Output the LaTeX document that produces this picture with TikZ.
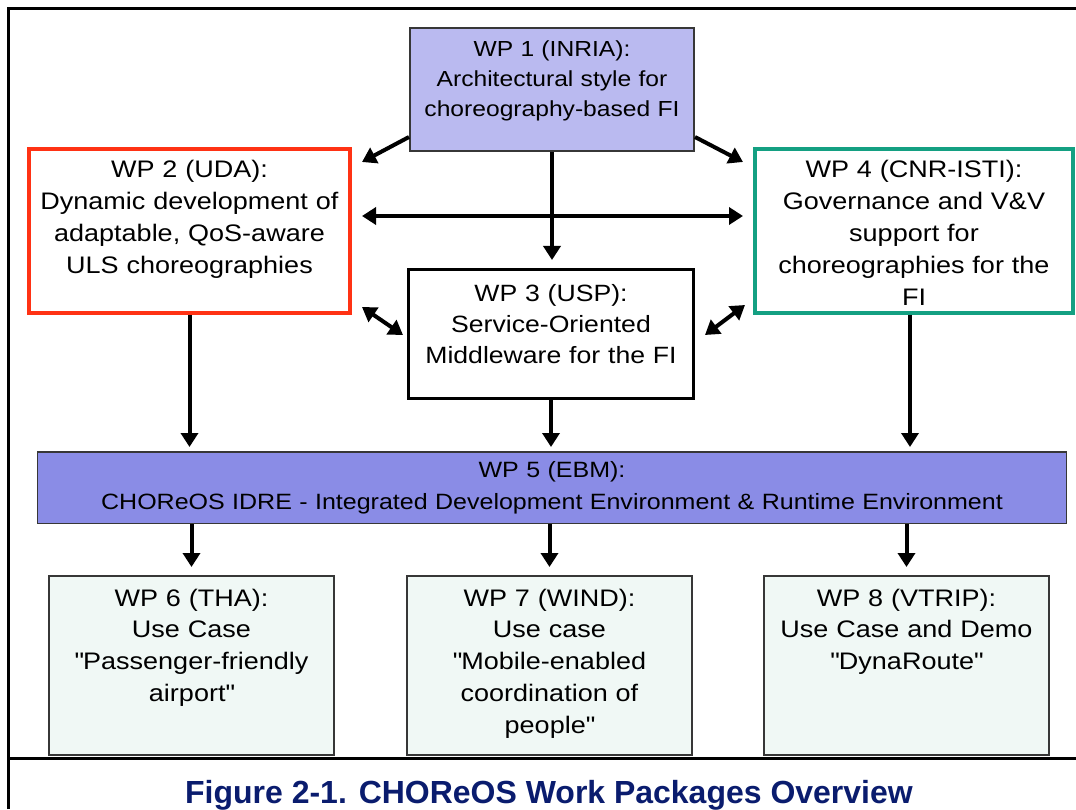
\documentclass[tikz,border=0pt]{standalone}
\usepackage{fontspec}
\setmainfont{Liberation Sans}[FakeStretch=1.13]
\newfontfamily\capfont{Liberation Sans}
\usetikzlibrary{arrows.meta}

\definecolor{wplilac}{RGB}{186,186,240}
\definecolor{wpviolet}{RGB}{138,140,230}
\definecolor{wpmint}{RGB}{240,248,245}
\definecolor{wpred}{RGB}{255,50,20}
\definecolor{wpteal}{RGB}{20,160,130}
\definecolor{wpgray}{RGB}{55,55,55}
\definecolor{capblue}{RGB}{10,28,110}

\newcommand{\qq}[1]{\textquotedbl{}#1\textquotedbl{}}

\tikzset{
	wpbox/.style={draw=wpgray, line width=0.04cm, inner sep=0pt},
	wptext/.style={anchor=base, inner sep=0pt, align=center, font=\fontsize{13.6}{18.2}\selectfont},
	wparrow/.style={line width=0.08cm, -{Triangle[length=0.28cm,width=0.34cm]}},
	wpboth/.style={line width=0.08cm, {Triangle[length=0.28cm,width=0.34cm]}-{Triangle[length=0.28cm,width=0.34cm]}},
	frameline/.style={line width=0.06cm}
}

\begin{document}
\begin{tikzpicture}
	\useasboundingbox (0,0) rectangle (21.52,16.18);
	%frame
		\draw[frameline] (0.18,0) -- (0.18,16.0) -- (21.52,16.0);
		\draw[frameline] (0.18,1.02) -- (21.52,1.02);
	%work packages
		\node[wpbox, fill=wplilac, minimum width=5.68cm, minimum height=2.46cm] (wp1) at (11.04,14.39) {};
		\node[wpbox, draw=wpred, line width=0.08cm, minimum width=6.42cm, minimum height=3.28cm] (wp2) at (3.79,11.56) {};
		\node[wpbox, draw=black, line width=0.06cm, minimum width=5.70cm, minimum height=2.58cm] (wp3) at (11.02,9.5) {};
		\node[wpbox, draw=wpteal, line width=0.08cm, minimum width=6.36cm, minimum height=3.28cm] (wp4) at (18.28,11.56) {};
		\node[wpbox, fill=wpviolet, line width=0.03cm, minimum width=20.57cm, minimum height=1.43cm] (wp5) at (11.04,6.43) {};
		\node[wpbox, fill=wpmint, minimum width=5.70cm, minimum height=3.58cm] (wp6) at (3.83,2.87) {};
		\node[wpbox, fill=wpmint, minimum width=5.70cm, minimum height=3.58cm] (wp7) at (10.99,2.87) {};
		\node[wpbox, fill=wpmint, minimum width=5.70cm, minimum height=3.58cm] (wp8) at (18.13,2.87) {};
	%labels
		\node[wptext, text width=5.6cm, font=\fontsize{12.4}{17.1}\selectfont] (wp1t) at (11.04,15.05) {WP 1 (INRIA):\\Architectural style for\\choreography-based FI};
		\node[wptext, text width=6.3cm] (wp2t) at (3.79,12.62) {WP 2 (UDA):\\Dynamic development of\\adaptable, QoS-aware\\ULS choreographies};
		\node[wptext, text width=5.6cm, font=\fontsize{13.4}{17.6}\selectfont] (wp3t) at (11.02,10.15) {WP 3 (USP):\\Service-Oriented\\Middleware for the FI};
		\node[wptext, text width=6.2cm] (wp4t) at (18.28,12.62) {WP 4 (CNR-ISTI):\\Governance and V\&V\\support for\\choreographies for the\\FI};
		\node[wptext, text width=20cm, font=\fontsize{12.6}{18.2}\selectfont] (wp5t) at (11.04,6.62) {WP 5 (EBM):\\CHOReOS IDRE - Integrated Development Environment \& Runtime Environment};
		\node[wptext, text width=5.6cm] (wp6t) at (3.83,4.06) {WP 6 (THA):\\Use Case\\\qq{Passenger-friendly\\airport}};
		\node[wptext, text width=5.6cm] (wp7t) at (10.99,4.06) {WP 7 (WIND):\\Use case\\\qq{Mobile-enabled\\coordination of\\people}};
		\node[wptext, text width=5.6cm] (wp8t) at (18.13,4.06) {WP 8 (VTRIP):\\Use Case and Demo\\\qq{DynaRoute}};
	%arrows from WP 1
		\draw[wparrow] ([yshift=0.3cm]wp1.south west) -- ([xshift=0.2cm,yshift=-0.3cm]wp2.north east);
		\draw[wparrow] ([yshift=0.3cm]wp1.south east) -- ([xshift=-0.2cm,yshift=-0.3cm]wp4.north west);
		\draw[wparrow, shorten >=0.16cm] (wp1.south) -- (wp1.south |- wp3.north);
	%links between WP 2, WP 3 and WP 4
		\draw[wpboth] ([xshift=0.2cm,yshift=0.3cm]wp2.east) -- ([xshift=-0.2cm,yshift=0.3cm]wp4.west);
		\draw[wpboth] ([xshift=0.2cm,yshift=0.16cm]wp2.south east) -- ([xshift=-0.08cm,yshift=-1.34cm]wp3.north west);
		\draw[wpboth] ([xshift=0.2cm,yshift=-1.34cm]wp3.north east) -- ([xshift=-0.16cm,yshift=0.2cm]wp4.south west);
	%into WP 5
		\draw[wparrow, shorten >=0.08cm] (wp2.south) -- (wp2.south |- wp5.north);
		\draw[wparrow, shorten >=0.08cm] (wp3.south) -- (wp3.south |- wp5.north);
		\draw[wparrow, shorten >=0.08cm] ([xshift=-0.08cm]wp4.south) -- ([xshift=-0.08cm]wp4.south |- wp5.north);
	%out of WP 5
		\draw[wparrow, shorten >=0.16cm] (wp5.south -| wp6.north) -- (wp6.north);
		\draw[wparrow, shorten >=0.16cm] (wp5.south -| wp7.north) -- (wp7.north);
		\draw[wparrow, shorten >=0.16cm] (wp5.south -| wp8.north) -- (wp8.north);
	%caption
		\node[anchor=base, inner sep=0pt, text=capblue, font=\capfont\bfseries\fontsize{18.2}{22}\selectfont] (cap) at (10.98,0.12) {Figure 2-1. CHOReOS Work Packages Overview};
\end{tikzpicture}
\end{document}
